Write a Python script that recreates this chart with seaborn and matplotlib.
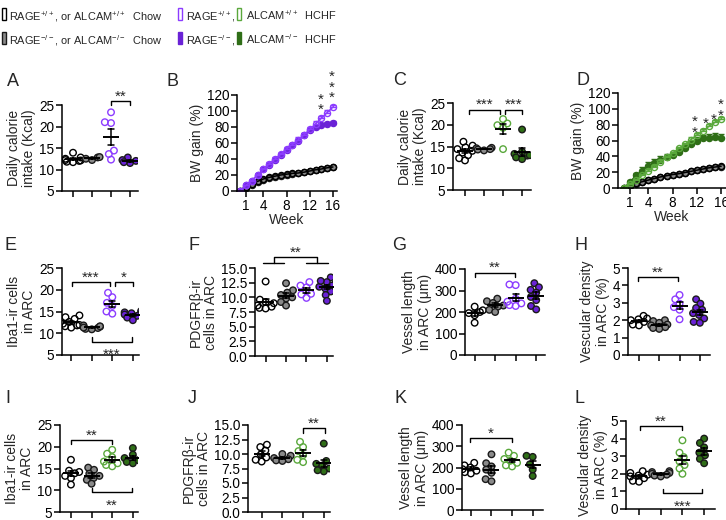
import warnings
warnings.filterwarnings("ignore")
import numpy as np
import pandas as pd
import matplotlib
matplotlib.use("Agg")
import matplotlib.pyplot as plt
from matplotlib.patches import Rectangle
import seaborn as sns

# ---------------- data ----------------
groups = ["WT Chow", "KO Chow", "WT HCHF", "KO HCHF"]

# A: daily calorie intake (RAGE)
a_wt_chow = [13.9, 12.8, 12.2, 12.0, 11.8, 12.5, 12.1, 11.7]
a_ko_chow = [12.8, 12.5, 12.2, 12.9]
a_wt_hchf = [23.3, 21.0, 20.8, 14.4, 13.6, 12.3]
a_ko_hchf = [12.8, 12.0, 11.5, 12.2, 11.7]

# B: BW gain (RAGE)
weeks = list(range(17))
b_wt_chow = [0, 5, 9, 12, 15, 17, 18.5, 20, 21, 22, 22.5, 23.5, 25, 26.5, 27.5, 29, 30]
b_ko_chow = [0, 4, 8, 11, 14, 16, 17.5, 19, 20.5, 21.5, 22.5, 23.5, 24.5, 26, 27.5, 28.5, 29.5]
b_wt_hchf = [0, 7, 13, 20, 27, 34, 40, 46, 53, 58, 64, 70, 77, 84, 91, 98, 105]
b_ko_hchf = [0, 7, 13, 20, 27, 33, 39, 45, 51, 57, 63, 70, 76, 80, 83, 84, 85]
b_wt_hchf_sem = [0, 1, 1, 1, 2, 2, 2, 2, 2, 2, 3, 3, 3, 3, 3, 3, 3]
b_ko_hchf_sem = [0, 1, 1, 1, 2, 2, 2, 2, 2, 2, 2, 2, 2, 2, 2, 2, 2]

# C: daily calorie intake (ALCAM)
c_wt_chow = [16.1, 15.2, 14.8, 14.4, 14.0, 13.6, 13.0, 12.3, 11.8]
c_ko_chow = [14.6, 14.3, 14.1, 14.7, 14.4]
c_wt_hchf = [21.3, 20.3, 19.9, 19.3, 14.4]
c_ko_hchf = [18.9, 13.8, 13.3, 12.9, 12.5, 12.1, 13.0]

# D: BW gain (ALCAM)
d_wt_chow = [0, 4, 6, 8, 10, 12, 14, 15.5, 17, 18, 19.5, 21, 22.5, 24, 25.5, 26.5, 27.5]
d_ko_chow = [0, 3, 5, 7.5, 10, 12, 13.5, 15, 16.5, 18, 19.5, 21, 22.5, 24, 25, 26, 27]
d_wt_hchf = [0, 5, 10, 16, 22, 27, 33, 39, 44, 50, 55, 61, 67, 72, 78, 83, 87]
d_ko_hchf = [0, 8, 16, 22, 28, 32, 36, 39, 42, 46, 50, 55, 60, 63, 63, 64, 63]
d_wt_hchf_sem = [0, 1, 1, 2, 2, 2, 2, 2, 2, 2, 2, 3, 3, 3, 3, 3, 3]
d_ko_hchf_sem = [0, 2, 3, 4, 5, 5, 5, 4, 4, 4, 4, 5, 5, 4, 5, 5, 5]

# E: Iba1-ir cells (RAGE)
e_wt_chow = [14.1, 13.7, 13.3, 12.6, 12.2, 11.9, 11.6, 11.3, 11.8]
e_ko_chow = [11.8, 11.5, 11.2, 11.0, 10.9, 11.3, 11.6]
e_wt_hchf = [19.3, 18.3, 17.0, 16.3, 15.0, 14.5]
e_ko_hchf = [15.1, 14.8, 14.5, 14.3, 14.1, 14.0, 13.6, 13.0, 14.6]

# F: PDGFRb-ir cells (RAGE)
f_wt_chow = [12.7, 9.6, 9.0, 8.6, 8.4, 8.1, 8.2, 9.2]
f_ko_chow = [12.4, 11.2, 10.8, 10.4, 10.0, 9.8, 9.2, 8.6]
f_wt_hchf = [12.6, 12.0, 11.7, 10.6, 9.9, 10.5]
f_ko_hchf = [13.4, 12.6, 12.3, 12.0, 11.8, 11.5, 11.0, 10.4, 9.4, 12.8]

# G: vessel length (RAGE)
g_wt_chow = [225, 208, 200, 195, 185, 150]
g_ko_chow = [262, 250, 242, 230, 225, 210, 200]
g_wt_hchf = [328, 325, 262, 248, 240, 232, 228]
g_ko_hchf = [334, 315, 303, 290, 270, 255, 228, 212]

# H: vascular density (RAGE)
h_wt_chow = [2.25, 2.1, 2.0, 1.9, 1.75, 1.7, 2.05]
h_ko_chow = [2.0, 1.95, 1.85, 1.75, 1.7, 1.6, 1.5, 1.55]
h_wt_hchf = [3.45, 3.2, 2.95, 2.75, 2.6, 2.05]
h_ko_hchf = [3.2, 2.95, 2.7, 2.6, 2.4, 2.3, 2.1, 1.9, 1.85]

# I: Iba1-ir cells (ALCAM)
i_wt_chow = [17.0, 14.5, 14.2, 13.9, 13.3, 12.8, 11.3]
i_ko_chow = [15.2, 14.7, 13.8, 13.3, 12.8, 12.4, 11.5]
i_wt_hchf = [19.3, 18.4, 17.6, 16.6, 16.2, 15.5, 15.8]
i_ko_hchf = [19.7, 18.2, 17.4, 17.1, 16.9, 16.5, 16.2]

# J: PDGFRb-ir cells (ALCAM)
j_wt_chow = [11.6, 11.2, 10.6, 9.9, 9.4, 8.7, 9.0]
j_ko_chow = [10.0, 9.7, 9.3, 9.1, 8.9, 8.8]
j_wt_hchf = [12.1, 11.2, 10.5, 9.8, 9.0, 8.6]
j_ko_hchf = [11.8, 8.8, 8.3, 8.0, 7.5, 7.0, 7.2]

# K: vessel length (ALCAM)
k_wt_chow = [222, 210, 200, 192, 185, 178, 172]
k_ko_chow = [262, 220, 205, 190, 175, 145, 135]
k_wt_hchf = [270, 255, 240, 232, 222, 210, 205]
k_ko_hchf = [255, 250, 215, 190, 160]

# L: vascular density (ALCAM)
l_wt_chow = [2.15, 2.05, 1.95, 1.9, 1.85, 1.75, 1.6, 1.55]
l_ko_chow = [2.15, 2.1, 2.05, 2.0, 1.95, 1.9, 1.85]
l_wt_hchf = [3.9, 3.2, 2.95, 2.7, 2.5, 2.3, 2.0]
l_ko_hchf = [4.0, 3.75, 3.5, 3.2, 3.05, 2.85, 2.6]

week_ticks = [1, 4, 8, 12, 16]

# ---------------- style ----------------
sns.set_theme(style="ticks")
plt.rcParams["font.family"] = ["Liberation Sans", "DejaVu Sans"]
plt.rcParams["mathtext.default"] = "regular"
plt.rcParams["axes.linewidth"] = 1.1

FS_TICK = 9.8
FS_LAB = 10
FS_STAR = 11
PACK_SIZE = 3.3   # size used to lay out the swarm (Prism-like overlap)
MARK_SIZE = 4.7   # drawn marker size
BLACK = "#000000"
GREY = "#8a8a8a"
P_OPEN = "#8c3cff"
P_FILL = "#6a22d6"
G_OPEN = "#5aa83c"
G_FILL = "#2f6e17"
EDGE = "#1a1a1a"

RAGE = [("none", BLACK), (GREY, EDGE), ("none", P_OPEN), (P_FILL, EDGE)]
ALCAM = [("none", BLACK), (GREY, EDGE), ("none", G_OPEN), (G_FILL, EDGE)]

W, H = 726, 520
fig = plt.figure(figsize=(W / 100, H / 100), dpi=100)
fig.patch.set_facecolor("white")
swarm_colls = []


def add_ax(x0, x1, ytop, ybot):
    return fig.add_axes([x0 / W, 1 - ybot / H, (x1 - x0) / W, (ybot - ytop) / H])


def style_ax(ax, ylim, yticks, yfmt=None):
    ax.set_ylim(*ylim)
    ax.set_yticks(yticks)
    if yfmt:
        ax.set_yticklabels([yfmt.format(t) for t in yticks])
    for s in ["top", "right"]:
        ax.spines[s].set_visible(False)
    for s in ["left", "bottom"]:
        ax.spines[s].set_linewidth(1.1)
        ax.spines[s].set_color("black")
    ax.tick_params(direction="out", length=4, width=1.1, labelsize=FS_TICK,
                   pad=1.5, colors="black")
    ax.set_facecolor("white")


def cat_panel(ax, vals, scheme, ylim, yticks, xlim, ylabel, yfmt=None):
    df = pd.DataFrame({
        "group": np.repeat(groups, [len(v) for v in vals]),
        "value": np.concatenate([np.asarray(v, float) for v in vals]),
    })
    for i, g in enumerate(groups):
        face, edge = scheme[i]
        n0 = len(ax.collections)
        sns.swarmplot(data=df[df.group == g], x="group", y="value", order=groups,
                      ax=ax, size=PACK_SIZE, color=GREY if face == "none" else face,
                      linewidth=1.0, zorder=2)
        for coll in ax.collections[n0:]:
            coll.set_facecolor(face)
            coll.set_edgecolor(edge)
            coll.set_linewidth(1.0)
            swarm_colls.append(coll)
    sns.pointplot(data=df, x="group", y="value", order=groups, ax=ax,
                  errorbar="se", color="black", marker="_", markersize=12,
                  markeredgewidth=1.4, linestyle="none", capsize=0.3,
                  err_kws={"linewidth": 1.1, "zorder": 6}, zorder=6)
    style_ax(ax, ylim, yticks, yfmt)
    ax.set_xticks(range(4))
    ax.set_xticklabels([])
    ax.set_xlim(*xlim)
    ax.set_xlabel("")
    ax.set_ylabel(ylabel, fontsize=FS_LAB, linespacing=1.15, labelpad=2)


def line_panel(ax, series, xlim, ylabel):
    for vals, sem, color, face, edge in series:
        sns.lineplot(x=weeks, y=vals, ax=ax, color=color, marker="o",
                     markersize=4.4, markerfacecolor=face, markeredgecolor=edge,
                     markeredgewidth=1.0, linewidth=1.1, errorbar=None)
        if sem is not None:
            ax.errorbar(weeks, vals, yerr=[np.zeros(len(sem)), sem], fmt="none",
                        ecolor=color, elinewidth=1.0, capsize=2, capthick=1.0)
    style_ax(ax, (0, 120), [0, 20, 40, 60, 80, 100, 120])
    ax.set_xticks(week_ticks)
    ax.set_xlim(*xlim)
    ax.set_xlabel("Week", fontsize=FS_LAB, labelpad=0)
    ax.set_ylabel(ylabel, fontsize=FS_LAB, labelpad=2)


def px_per_unit(ax):
    bb = ax.get_position()
    y0, y1 = ax.get_ylim()
    return bb.height * H / (y1 - y0)


def bracket(ax, g1, g2, y, text, below=False):
    h = 4.5 / px_per_unit(ax)
    if not below:
        ax.plot([g1, g1, g2, g2], [y - h, y, y, y - h], color="black", lw=1.0,
                clip_on=False, zorder=7)
        ax.annotate(text, xy=((g1 + g2) / 2, y), xytext=(0, 0.3),
                    textcoords="offset points", ha="center", va="baseline",
                    fontsize=FS_STAR, annotation_clip=False)
    else:
        ax.plot([g1, g1, g2, g2], [y + h, y, y, y + h], color="black", lw=1.0,
                clip_on=False, zorder=7)
        ax.annotate(text, xy=((g1 + g2) / 2, y), xytext=(0, -12.5),
                    textcoords="offset points", ha="center", va="baseline",
                    fontsize=FS_STAR, annotation_clip=False)


def star_stack(ax, x, y_low, n):
    ax.annotate("\n".join(["*"] * n), xy=(x, y_low), xytext=(0, -0.57 * FS_STAR),
                textcoords="offset points", ha="center", va="baseline",
                fontsize=FS_STAR, linespacing=0.7, annotation_clip=False)


intake_lab = "Daily calorie\nintake (Kcal)"
iba_lab = "Iba1-ir cells\nin ARC"
pdg_lab = "PDGFRβ-ir\ncells in ARC"
ves_lab = "Vessel length\nin ARC (μm)"
den_lab = "Vescular density\nin ARC (%)"

# ---- Row 1 ----
axA = add_ax(62, 138, 105, 191)
cat_panel(axA, [a_wt_chow, a_ko_chow, a_wt_hchf, a_ko_hchf], RAGE,
          (5, 25), [5, 10, 15, 20, 25], (-0.58, 3.42), intake_lab)
bracket(axA, 2, 3, 26.0, "**")

axB = add_ax(237, 337, 95, 191)
line_panel(axB, [
    (b_ko_chow, None, GREY, GREY, EDGE),
    (b_wt_chow, None, BLACK, "none", BLACK),
    (b_ko_hchf, b_ko_hchf_sem, P_FILL, P_FILL, P_FILL),
    (b_wt_hchf, b_wt_hchf_sem, P_OPEN, "none", P_OPEN),
], (-0.55, 16.7), "BW gain (%)")
star_stack(axB, 13.9, 107, 2)
star_stack(axB, 15.8, 122, 3)

axC = add_ax(453, 531, 103, 190)
cat_panel(axC, [c_wt_chow, c_ko_chow, c_wt_hchf, c_ko_hchf], ALCAM,
          (5, 25), [5, 10, 15, 20, 25], (-0.63, 3.47), intake_lab)
bracket(axC, 0.2, 1.85, 23.5, "***")
bracket(axC, 2.1, 3.0, 23.5, "***")

axD = add_ax(618, 726, 93, 188)
line_panel(axD, [
    (d_ko_chow, None, GREY, GREY, EDGE),
    (d_wt_chow, None, BLACK, "none", BLACK),
    (d_ko_hchf, d_ko_hchf_sem, G_FILL, G_FILL, G_FILL),
    (d_wt_hchf, d_wt_hchf_sem, G_OPEN, "none", G_OPEN),
], (-1.0, 16.8), "BW gain (%)")
star_stack(axD, 11.7, 76, 2)
star_stack(axD, 13.4, 87, 1)
star_stack(axD, 14.8, 92, 1)
star_stack(axD, 15.9, 97, 2)

# ---- Row 2 ----
axE = add_ax(62, 139, 268, 355)
cat_panel(axE, [e_wt_chow, e_ko_chow, e_wt_hchf, e_ko_hchf], RAGE,
          (5, 25), [5, 10, 15, 20, 25], (-0.45, 3.3), iba_lab)
bracket(axE, 0.03, 1.88, 21.85, "***")
bracket(axE, 2.12, 3.0, 21.85, "*")
bracket(axE, 1.0, 2.96, 8.07, "***", below=True)

axF = add_ax(255, 333, 268, 356)
cat_panel(axF, [f_wt_chow, f_ko_chow, f_wt_hchf, f_ko_hchf], RAGE,
          (0, 15), [0, 2.5, 5, 7.5, 10, 12.5, 15], (-0.52, 3.3), pdg_lab, "{:.1f}")
kw = dict(color="black", lw=1.0, clip_on=False, zorder=7)
axF.plot([-0.13, 0.9], [15.9, 15.9], **kw)
axF.plot([2.0, 3.05], [15.9, 15.9], **kw)
axF.plot([0.4, 0.4, 2.5, 2.5], [15.9, 16.8, 16.8, 15.9], **kw)
axF.annotate("**", xy=(1.45, 16.8), xytext=(0, 0.3), textcoords="offset points",
             ha="center", va="baseline", fontsize=FS_STAR, annotation_clip=False)

axG = add_ax(465, 545, 269, 355)
cat_panel(axG, [g_wt_chow, g_ko_chow, g_wt_hchf, g_ko_hchf], RAGE,
          (0, 400), [0, 100, 200, 300, 400], (-0.47, 3.43), ves_lab)
bracket(axG, 0.0, 1.97, 383, "**")

axH = add_ax(628, 710, 268, 355)
cat_panel(axH, [h_wt_chow, h_ko_chow, h_wt_hchf, h_ko_hchf], RAGE,
          (0, 5), [0, 1, 2, 3, 4, 5], (-0.54, 3.5), den_lab)
bracket(axH, -0.05, 1.93, 4.5, "**")

# ---- Row 3 ----
axI = add_ax(60, 138, 425, 512)
cat_panel(axI, [i_wt_chow, i_ko_chow, i_wt_hchf, i_ko_hchf], ALCAM,
          (5, 25), [5, 10, 15, 20, 25], (-0.53, 3.25), iba_lab)
bracket(axI, 0.0, 2.0, 21.6, "**")
bracket(axI, 1.0, 2.97, 9.56, "**", below=True)

axJ = add_ax(248, 330, 425, 512)
cat_panel(axJ, [j_wt_chow, j_ko_chow, j_wt_hchf, j_ko_hchf], ALCAM,
          (0, 15), [0, 2.5, 5, 7.5, 10, 12.5, 15], (-0.66, 3.3), pdg_lab, "{:.1f}")
bracket(axJ, 2.0, 3.05, 14.4, "**")

axK = add_ax(462, 543, 425, 510)
cat_panel(axK, [k_wt_chow, k_ko_chow, k_wt_hchf, k_ko_hchf], ALCAM,
          (0, 400), [0, 100, 200, 300, 400], (-0.43, 3.5), ves_lab)
bracket(axK, -0.05, 2.0, 340, "*")

axL = add_ax(626, 715, 421, 509)
cat_panel(axL, [l_wt_chow, l_ko_chow, l_wt_hchf, l_ko_hchf], ALCAM,
          (0, 5), [0, 1, 2, 3, 4, 5], (-0.6, 3.5), den_lab)
bracket(axL, 0.05, 1.98, 4.72, "**")
bracket(axL, 1.1, 2.9, 0.89, "***", below=True)

# ---- panel letters ----
for letter, x, y in [("A", 7, 73), ("B", 167, 73), ("C", 393, 72), ("D", 576, 72),
                     ("E", 5, 237), ("F", 188, 237), ("G", 392, 237), ("H", 575, 237),
                     ("I", 5, 390), ("J", 188, 390), ("K", 395, 390), ("L", 575, 390)]:
    fig.text(x / W, 1 - y / H, letter, fontsize=13, va="top", ha="left")

# ---- legend ----
FS_LEG = 7.9
legend_patches = [
    (2, 8, "white", BLACK), (2, 32, GREY, EDGE),
    (178, 8, "white", P_OPEN), (178, 32, P_FILL, P_FILL),
    (237, 8, "white", G_OPEN), (237, 32, G_FILL, G_FILL),
]
for x, y, fc, ec in legend_patches:
    fig.add_artist(Rectangle((x / W, 1 - (y + 12) / H), 3.5 / W, 12 / H,
                             transform=fig.transFigure, facecolor=fc,
                             edgecolor=ec, linewidth=1.0))
legend_texts = [
    (9, 20, r"RAGE$^{+/+}$, or ALCAM$^{+/+}$  Chow"),
    (9, 44, r"RAGE$^{-/-}$, or ALCAM$^{-/-}$  Chow"),
    (186, 20, r"RAGE$^{+/+}$,"),
    (186, 44, r"RAGE$^{-/-}$,"),
    (246, 20, r"ALCAM$^{+/+}$  HCHF"),
    (246, 44, r"ALCAM$^{-/-}$  HCHF"),
]
for x, y, t in legend_texts:
    fig.text(x / W, 1 - y / H, t, fontsize=FS_LEG, va="baseline", ha="left")

# lay out swarms with a smaller packing size, then draw the markers larger
fig.canvas.draw()
for coll in swarm_colls:
    if "draw" in coll.__dict__:
        del coll.draw
    coll.set_sizes([MARK_SIZE ** 2] * len(coll.get_offsets()))

fig.savefig("out.png", dpi=100, facecolor="white")
